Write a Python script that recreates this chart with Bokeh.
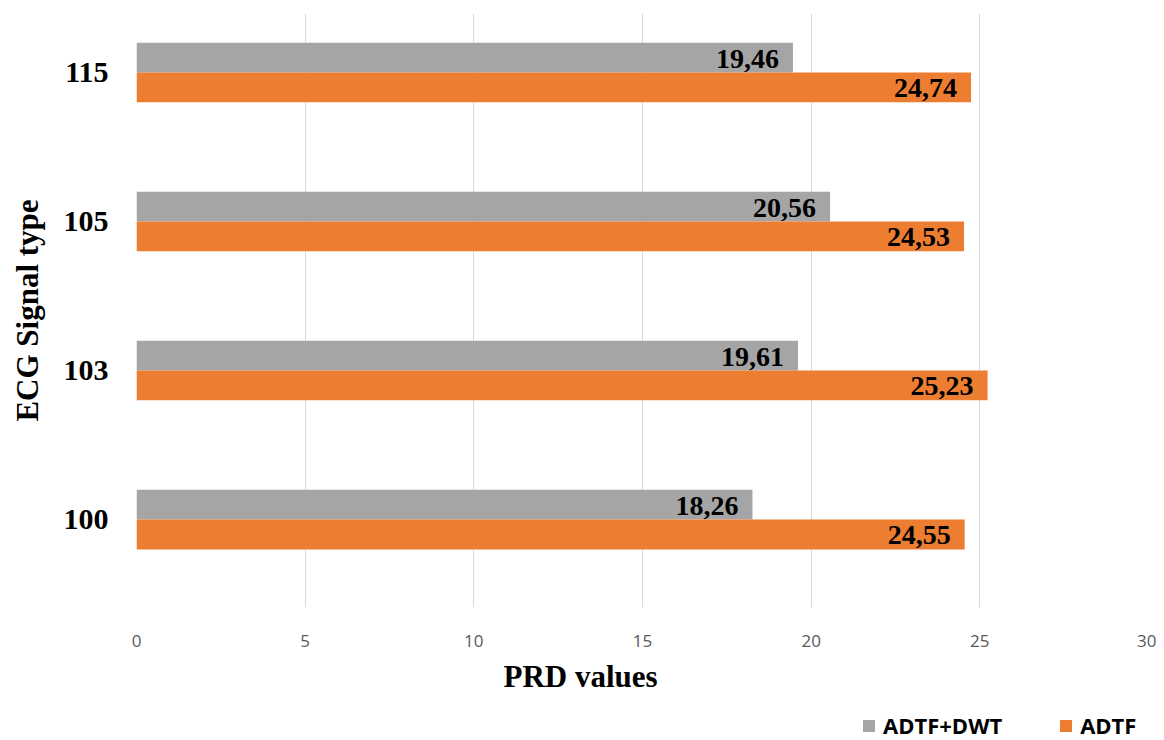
from bokeh.plotting import figure
from bokeh.layouts import column
from bokeh.models import Range1d, FixedTicker, Title, Legend, LegendItem, ColumnDataSource
from bokeh.core.properties import value
from bokeh.embed import file_html
from bokeh.resources import INLINE

categories = ["100", "103", "105", "115"]
adtf_dwt = [18.26, 19.61, 20.56, 19.46]
adtf = [24.55, 25.23, 24.53, 24.74]
x_ticks = [0, 5, 10, 15, 20, 25, 30]
series_names = ["ADTF+DWT", "ADTF"]

GRAY = "#A5A5A5"
ORANGE = "#ED7D31"
SERIF = "Liberation Serif"

pos = list(range(len(categories)))
src = ColumnDataSource(dict(
    y_dwt=[p + 0.1 for p in pos],
    y_adtf=[p - 0.1 for p in pos],
    dwt=adtf_dwt,
    adtf=adtf,
    dwt_lbl=[f"{v:.2f}".replace(".", ",") for v in adtf_dwt],
    adtf_lbl=[f"{v:.2f}".replace(".", ",") for v in adtf],
))

W = 1156
LEFT, RIGHT = 136, 8
p = figure(width=W, height=707, output_backend="svg", toolbar_location=None,
           x_range=Range1d(0, 30), y_range=Range1d(-0.59, 3.396),
           min_border_left=LEFT, min_border_right=RIGHT, min_border_top=13, min_border_bottom=100)
p.outline_line_color = None
p.background_fill_color = "white"

r1 = p.hbar(y="y_dwt", right="dwt", left=0, height=0.2, source=src,
            fill_color=GRAY, line_color=None)
r2 = p.hbar(y="y_adtf", right="adtf", left=0, height=0.2, source=src,
            fill_color=ORANGE, line_color=None)

for ycol, xcol, tcol in (("y_dwt", "dwt", "dwt_lbl"), ("y_adtf", "adtf", "adtf_lbl")):
    p.text(x=xcol, y=ycol, text=tcol, source=src, x_offset=-14, y_offset=1,
           text_align="right", text_baseline="middle",
           text_font=value(SERIF), text_font_style="bold",
           text_font_size="28px", text_color="black")

# axes
p.xaxis.ticker = FixedTicker(ticks=x_ticks)
p.xaxis.axis_line_color = None
p.xaxis.major_tick_line_color = None
p.xaxis.major_tick_out = 0
p.xaxis.major_tick_in = 0
p.xaxis.minor_tick_line_color = None
p.xaxis.major_label_standoff = 27
p.xaxis.major_label_text_font = "Open Sans"
p.xaxis.major_label_text_font_size = "17px"
p.xaxis.major_label_text_color = "#595959"

p.yaxis.ticker = FixedTicker(ticks=pos)
p.yaxis.major_label_overrides = {i: c for i, c in enumerate(categories)}
p.yaxis.axis_line_color = None
p.yaxis.major_tick_line_color = None
p.yaxis.major_tick_out = 0
p.yaxis.major_tick_in = 0
p.yaxis.minor_tick_line_color = None
p.yaxis.major_label_standoff = 28
p.yaxis.major_label_text_font = SERIF
p.yaxis.major_label_text_font_style = "bold"
p.yaxis.major_label_text_font_size = "30px"
p.yaxis.major_label_text_color = "black"
p.yaxis.axis_label = "ECG Signal type"
p.yaxis.axis_label_text_font = SERIF
p.yaxis.axis_label_text_font_style = "bold"
p.yaxis.axis_label_text_font_size = "31px"
p.yaxis.axis_label_text_color = "black"
p.yaxis.axis_label_standoff = 16

p.ygrid.grid_line_color = None
p.xgrid.grid_line_color = "#D9D9D9"
p.xgrid.grid_line_width = 1

xtitle = Title(text="PRD values", align="left", offset=367, standoff=14,
               text_font=SERIF, text_font_style="bold", text_font_size="31px",
               text_color="black")
p.add_layout(xtitle, "below")

# legend strip below the chart (its renderers are hidden; only the legend shows)
pl = figure(width=W, height=33, output_backend="svg", toolbar_location=None,
            x_range=Range1d(0, 30), y_range=Range1d(-0.59, 3.396),
            x_axis_location=None, y_axis_location=None,
            min_border_left=LEFT, min_border_right=RIGHT, min_border_top=0, min_border_bottom=0)
pl.outline_line_color = None
pl.grid.visible = False
lr1 = pl.hbar(y="y_dwt", right="dwt", left=0, height=0.2, source=src,
              fill_color=GRAY, line_color=None, visible=False)
lr2 = pl.hbar(y="y_adtf", right="adtf", left=0, height=0.2, source=src,
              fill_color=ORANGE, line_color=None, visible=False)
legend = Legend(items=[LegendItem(label=series_names[0], renderers=[lr1]),
                       LegendItem(label=series_names[1], renderers=[lr2])],
                orientation="horizontal", location=(725, 0),
                border_line_alpha=0, background_fill_alpha=0,
                inactive_fill_alpha=0,
                glyph_width=15, glyph_height=15, label_standoff=7,
                label_height=15,
                label_text_font="Open Sans", label_text_font_style="bold",
                label_text_font_size="22px", label_text_color="black",
                label_text_baseline="middle",
                spacing=56, padding=0, margin=0)
pl.add_layout(legend, "center")

layout = column(p, pl, spacing=0)
open("out.html", "w").write(file_html(layout, INLINE))
